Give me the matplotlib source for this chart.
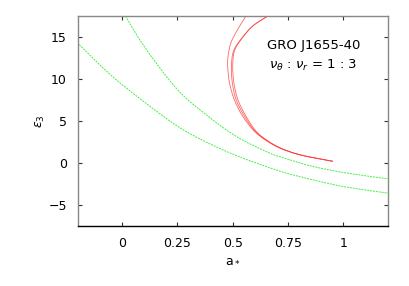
import numpy as np
import matplotlib
matplotlib.use("Agg")
import matplotlib.pyplot as plt
from matplotlib.path import Path
from matplotlib.patches import PathPatch

# green curves
g1_a = [0.015, 0.098, 0.249, 0.387, 0.515, 0.666, 0.757, 0.862, 1.014, 1.202]
g1_e = [17.5, 13.93, 8.76, 5.6, 3.18, 1.19, 0.39, -0.41, -1.19, -1.88]

g2_a = [-0.204, -0.053, 0.098, 0.249, 0.364, 0.515, 0.711, 0.862, 1.014, 1.202]
g2_e = [14.34, 10.5, 7.3, 4.4, 2.7, 0.9, -0.95, -2.0, -2.87, -3.58]

# red curves
r1_a = [0.560, 0.523, 0.492, 0.479, 0.477, 0.485, 0.507, 0.545, 0.606, 0.696, 0.802, 0.953]
r1_e = [17.5, 15.93, 14.33, 12.74, 11.54, 9.56, 7.56, 5.57, 3.58, 1.99, 0.99, 0.20]

r2_a = [0.659, 0.590, 0.538, 0.507, 0.500, 0.505, 0.523, 0.560, 0.613, 0.700, 0.802, 0.953]
r2_e = [17.5, 16.3, 14.7, 13.3, 11.54, 9.56, 7.56, 5.57, 3.58, 1.99, 0.99, 0.20]

r3_a = [0.659, 0.590, 0.536, 0.503, 0.494, 0.498, 0.515, 0.553, 0.609, 0.698, 0.802, 0.953]
r3_e = [17.5, 16.3, 14.7, 13.3, 11.54, 9.56, 7.56, 5.57, 3.58, 1.99, 0.99, 0.20]

xticks = [0, 0.25, 0.5, 0.75, 1]
xticklabels = ["0", "0.25", "0.5", "0.75", "1"]
yticks = [-5, 0, 5, 10, 15]


def smooth_path(xs, ys):
    # Catmull-Rom through the read points, drawn as cubic Bezier segments
    p = np.column_stack([xs, ys])
    verts = [p[0]]
    codes = [Path.MOVETO]
    n = len(p)
    for i in range(n - 1):
        p0 = p[max(i - 1, 0)]
        p1 = p[i]
        p2 = p[i + 1]
        p3 = p[min(i + 2, n - 1)]
        verts += [p1 + (p2 - p0) / 6, p2 - (p3 - p1) / 6, p2]
        codes += [Path.CURVE4] * 3
    return Path(verts, codes)


fig = plt.figure(figsize=(4.09, 2.86), dpi=100)
ax = fig.add_axes([78 / 409, 1 - 226 / 286, (387.5 - 78) / 409, (226 - 16) / 286])

for xa, ye in [(g1_a, g1_e), (g2_a, g2_e)]:
    ax.add_patch(PathPatch(smooth_path(xa, ye), fill=False, edgecolor="#44ee44",
                           lw=0.7, ls=(0, (2, 1)), clip_on=True))
for xa, ye in [(r1_a, r1_e), (r2_a, r2_e), (r3_a, r3_e)]:
    ax.add_patch(PathPatch(smooth_path(xa, ye), fill=False, edgecolor="#ff3333",
                           lw=0.6, alpha=0.75, clip_on=True))

ax.set_xlim(-0.2, 1.2)
ax.set_ylim(-7.5, 17.5)
ax.set_xticks(xticks)
ax.set_xticklabels(xticklabels)
ax.set_yticks(yticks)
ax.tick_params(direction="in", top=True, right=True, length=3, width=0.8,
               labelsize=9, pad=8, color="#333333")

for s in ["left", "top", "right"]:
    ax.spines[s].set_color("#888888")
ax.spines["bottom"].set_color("black")
for s in ax.spines.values():
    s.set_linewidth(1.0)

ax.set_xlabel(r"a$_*$", fontsize=9, labelpad=2)
ax.set_ylabel(r"$\varepsilon_3$", fontsize=9, labelpad=1)

ax.text(0.865, 14.0, "GRO J1655-40", ha="center", va="center", fontsize=9.5)
ax.text(0.865, 11.6, r"$\nu_\theta$ : $\nu_r$ = 1 : 3", ha="center", va="center", fontsize=9.5)

fig.savefig("out.png", dpi=100)
